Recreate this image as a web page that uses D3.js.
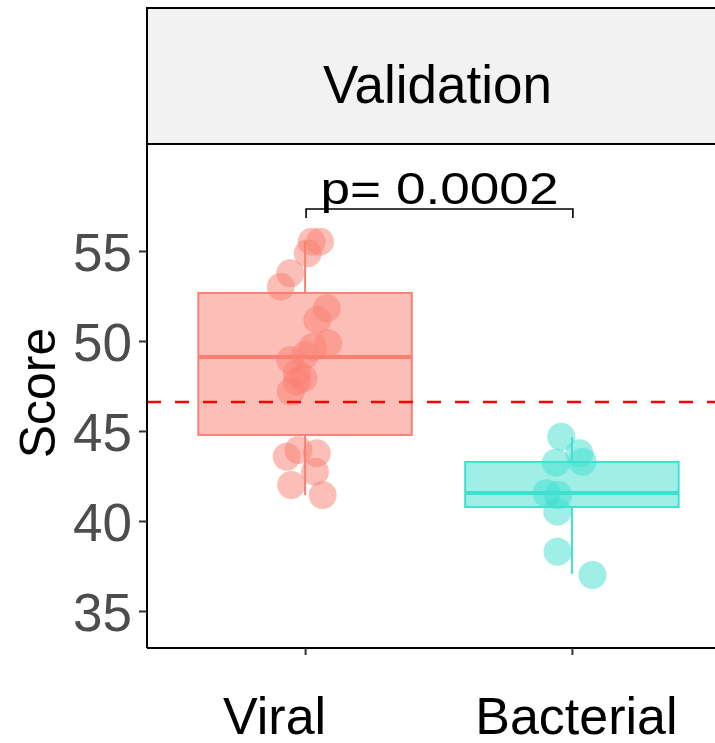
<!DOCTYPE html>
<html><head><meta charset="utf-8">
<script src="https://cdn.jsdelivr.net/npm/d3@7"></script>
<style>body{margin:0;background:#fff}svg{display:block;font-family:"Liberation Sans",Arial,sans-serif}</style>
</head><body><svg id="c" width="715" height="743"></svg>
<script>
const categories = ["Viral", "Bacterial"];
const colors = ["#FA8072", "#40E0D0"];
const facetTitle = "Validation";
const yTicks = [35, 40, 45, 50, 55];
const pLabel = "p= 0.0002";
const cutoff = 46.61;
// box stats: [lowWhisker, q1, median, q3, highWhisker]
const boxViral = [41.44, 44.78, 49.11, 52.67, 55.56];
const boxBacterial = [37.06, 40.78, 41.56, 43.28, 44.67];
const viralScores = [55.52,55.52,54.87,53.76,53.02,51.82,51.17,49.87,49.68,49.22,48.94,48.21,47.93,47.74,47.18,43.94,43.76,43.57,42.74,42.0,41.44];
const viralJitter = [0.025,0.056,0.010,-0.056,-0.091,0.081,0.046,0.087,0.029,0.0,-0.056,-0.031,-0.006,-0.031,-0.054,-0.025,0.044,-0.069,0.037,-0.052,0.066];
const bacterialScores = [44.68,43.76,43.29,43.24,41.54,41.44,40.52,38.29,37.0];
const bacterialJitter = [-0.040,0.028,0.040,-0.060,-0.095,-0.051,-0.055,-0.054,0.077];

const svg = d3.select("#c");
const panel = {left:147, top:144, bottom:648};
const x = d3.scalePoint().domain(categories).range([145, 732]).padding(0.6);
const step = x.step();
const y = d3.scaleLinear().domain([32.944, 60.944]).range([648, 144]);

// strip
svg.append("rect").attr("x", panel.left).attr("y", 8).attr("width", 600).attr("height", 136)
  .attr("fill", "#F2F2F2").attr("stroke", "#000").attr("stroke-width", 2);
svg.append("text").attr("x", 437.5).attr("y", 103).attr("text-anchor", "middle")
  .attr("font-size", 53).attr("fill", "#000").text(facetTitle);

const boxes = [boxViral, boxBacterial];
const pts = [[viralScores, viralJitter], [bacterialScores, bacterialJitter]];
const bw = step * 0.8;
const g = svg.append("g");
categories.forEach((c, i) => {
  const cx = x(c), b = boxes[i], col = colors[i];
  g.append("line").attr("x1", cx).attr("x2", cx).attr("y1", y(b[4])).attr("y2", y(b[3])).attr("stroke", col).attr("stroke-width", 2);
  g.append("line").attr("x1", cx).attr("x2", cx).attr("y1", y(b[1])).attr("y2", y(b[0])).attr("stroke", col).attr("stroke-width", 2);
  g.append("rect").attr("x", cx - bw/2).attr("width", bw).attr("y", y(b[3])).attr("height", y(b[1]) - y(b[3]))
    .attr("fill", col).attr("fill-opacity", 0.5).attr("stroke", col).attr("stroke-width", 2);
  g.append("line").attr("x1", cx - bw/2).attr("x2", cx + bw/2).attr("y1", y(b[2])).attr("y2", y(b[2])).attr("stroke", col).attr("stroke-width", 4);
});
categories.forEach((c, i) => {
  const [vals, jit] = pts[i];
  g.selectAll(null).data(vals).enter().append("circle")
    .attr("cx", (d, k) => x(c) + jit[k] * step).attr("cy", d => y(d)).attr("r", 14)
    .attr("fill", colors[i]).attr("fill-opacity", 0.5);
});
// cutoff
svg.append("line").attr("x1", panel.left).attr("x2", 715).attr("y1", y(cutoff)).attr("y2", y(cutoff))
  .attr("stroke", "#FF0000").attr("stroke-width", 2.5).attr("stroke-dasharray", "14,14");

// p bracket
const by = 209;
svg.append("path").attr("d", `M${x(categories[0])+1},${by+9}V${by}H${x(categories[1])+1}V${by+9}`)
  .attr("fill", "none").attr("stroke", "#000").attr("stroke-width", 1.6);
svg.append("text").attr("x", 439.5).attr("y", 203.5).attr("text-anchor", "middle")
  .attr("font-size", 45).attr("fill", "#000")
  .attr("textLength", 238).attr("lengthAdjust", "spacingAndGlyphs").text(pLabel);

// axes
const ya = svg.append("g").attr("transform", `translate(${panel.left},0)`)
  .call(d3.axisLeft(y).tickValues(yTicks).tickSize(8).tickPadding(7));
ya.select(".domain").attr("d", `M0,8V${panel.bottom}`).attr("stroke", "#000").attr("stroke-width", 2);
ya.selectAll(".tick line").attr("stroke", "#333").attr("stroke-width", 2);
ya.selectAll(".tick text").attr("font-size", 53).attr("fill", "#4D4D4D").attr("font-family", "Liberation Sans, Arial, sans-serif").attr("dy", "0.36em");

const labelShift = {"Viral": -31, "Bacterial": 4};
const xa = svg.append("g").attr("transform", `translate(0,${panel.bottom})`)
  .call(d3.axisBottom(x).tickSize(7).tickPadding(42));
xa.select(".domain").attr("d", `M${panel.left},0H715`).attr("stroke", "#000").attr("stroke-width", 2);
xa.selectAll(".tick line").attr("stroke", "#333").attr("stroke-width", 2);
xa.selectAll(".tick text").attr("font-size", 52).attr("fill", "#000").attr("font-family", "Liberation Sans, Arial, sans-serif")
  .attr("dx", d => labelShift[d]);

svg.append("text").attr("transform", "translate(55,393) rotate(-90)").attr("text-anchor", "middle")
  .attr("font-size", 50).attr("fill", "#000").text("Score");
</script></body></html>
